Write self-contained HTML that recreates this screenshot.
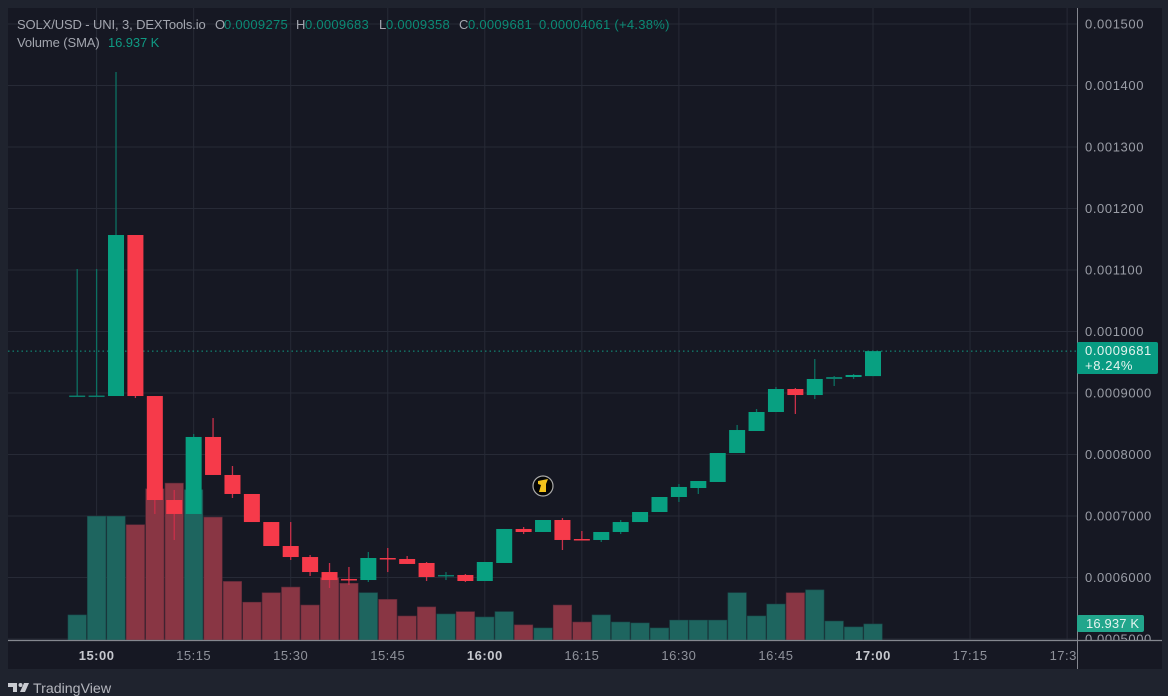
<!DOCTYPE html>
<html lang="en">
<head>
<meta charset="utf-8">
<title>SOLX/USD chart</title>
<style>
  html, body { margin: 0; padding: 0; width: 1168px; height: 696px; overflow: hidden; background: #1f232e; }
  svg { display: block; }
  text { font-family: "Liberation Sans", sans-serif; }
</style>
</head>
<body>
<svg id="chart" xmlns="http://www.w3.org/2000/svg" width="1168" height="696" viewBox="0 0 1168 696">
  <defs>
    <clipPath id="plot-clip"><rect x="8" y="8" width="1069" height="632"></rect></clipPath>
    <clipPath id="time-clip"><rect x="8" y="641" width="1069" height="28"></rect></clipPath>
    <clipPath id="price-clip"><rect x="1078" y="8" width="84" height="632"></rect></clipPath>
  </defs>
  <rect x="0" y="0" width="1168" height="696" fill="#1f232e"></rect>
  <rect x="8" y="8" width="1154" height="661" fill="#161823"></rect>
  <g id="grid" clip-path="url(#plot-clip)"></g>
  <g id="volumes" clip-path="url(#plot-clip)"></g>
  <line id="lastLine" x1="8" x2="1077" stroke="#119a83" stroke-width="1" stroke-dasharray="1.5 3"></line>
  <g id="candles" clip-path="url(#plot-clip)"></g>

  <g id="price-axis" clip-path="url(#price-clip)"></g>
  <g id="time-axis" clip-path="url(#time-clip)"></g>
  <line x1="1077.5" x2="1077.5" y1="8" y2="669" stroke="#84878f" stroke-width="1"></line>
  <line x1="8" x2="1162" y1="640.5" y2="640.5" stroke="#84878f" stroke-width="1.2"></line>

  <g>
    <rect x="1077" y="342" width="81" height="32" rx="2" fill="#089b82"></rect>
    <text x="1085" y="355" font-size="13" letter-spacing="0.6" fill="#e4f3ef">0.0009681</text>
    <text x="1085" y="370" font-size="13" letter-spacing="0.6" fill="#e4f3ef">+8.24%</text>
  </g>
  <g>
    <rect x="1077" y="615" width="67" height="17" rx="2" fill="#22a68c"></rect>
    <text x="1086" y="628" font-size="13" letter-spacing="0.15" fill="#e4f3ef">16.937 K</text>
  </g>

  <g font-size="13" letter-spacing="0.28">
    <text x="17" y="29" letter-spacing="-0.12" fill="#a3a6af">SOLX/USD - UNI, 3, DEXTools.io</text>
    <text x="215" y="29" fill="#a3a6af">O</text>
    <text x="224" y="29" fill="#0b8a75">0.0009275</text>
    <text x="296" y="29" fill="#a3a6af">H</text>
    <text x="305" y="29" fill="#0b8a75">0.0009683</text>
    <text x="379" y="29" fill="#a3a6af">L</text>
    <text x="386" y="29" fill="#0b8a75">0.0009358</text>
    <text x="459" y="29" fill="#a3a6af">C</text>
    <text x="468" y="29" fill="#0b8a75">0.0009681</text>
    <text x="539" y="29" fill="#0b8a75">0.00004061 (+4.38%)</text>
    <text x="17" y="47" letter-spacing="-0.1" fill="#a3a6af">Volume (SMA)</text>
    <text x="108" y="47" letter-spacing="-0.1" fill="#0f9a83">16.937 K</text>
  </g>

  <g>
    <circle cx="543" cy="486" r="10" fill="#050505" stroke="#a9a9a9" stroke-width="1.2"></circle>
    <polygon points="538,481 548,479 546,484 546,492 539,492 541,485 538,484" fill="#f2c21c"></polygon>
  </g>

  <g>
    <polygon points="8,683 17,683 17,692 13,692 13,687 8,687" fill="#c9cbd1"></polygon>
    <circle cx="20.5" cy="685" r="2" fill="#c9cbd1"></circle>
    <polygon points="24,683 29,683 25,692 20,692" fill="#c9cbd1"></polygon>
    <text x="33" y="693" font-size="14.2" fill="#b4b6bd">TradingView</text>
  </g>
</svg>
<script>
const candleIndex = [-1,0,1,2,3,4,5,6,7,8,9,10,11,12,13,14,15,16,17,18,19,20,21,22,23,24,25,26,27,28,29,30,31,32,33,34,35,36,37,38,39,40];
const openValues = [8951,8951,8951,11569,8951,7260,7033,8285,7667,7358,6902,6512,6333,6089,5976,5959,6317,6301,6236,6024,6041,5943,6236,6789,6740,6935,6626,6610,6740,6902,7065,7309,7455,7553,8024,8382,8691,9065,8967,9228,9260,9275];
const highValues = [11016,11016,14219,11569,8951,7423,8333,8593,7813,7358,6902,6902,6366,6236,6171,6415,6480,6350,6252,6089,6057,6252,6789,6821,6935,6967,6756,6740,6935,7065,7309,7520,7569,8024,8480,8740,9098,9081,9553,9276,9309,9683];
const lowValues = [8951,8951,8951,8919,7033,6610,7033,7667,7293,6902,6512,6285,6024,5829,5878,5927,6089,6220,5943,5959,5927,5943,6236,6707,6740,6447,6610,6577,6707,6902,7065,7228,7358,7553,8024,8382,8691,8659,8902,9114,9228,9275];
const closeValues = [8959,8959,11569,8951,7260,7033,8285,7667,7358,6902,6512,6333,6089,5959,5959,6317,6293,6220,6008,6041,5943,6252,6789,6740,6935,6610,6610,6740,6902,7065,7309,7472,7569,8024,8398,8691,9065,8967,9228,9260,9293,9681];
const volumeValues = [26.5,131,131,122,160,166,159,130,62,40,50,56,37,66,60,50,43,25.4,35,27.5,30,24.3,30,16,12.7,37,19,26.5,19,18,12.7,21,21,21,50,25.4,38,50,53,20,13.8,16.937];
const priceTickLabels = ['0.001500','0.001400','0.001300','0.001200','0.001100','0.001000','0.0009000','0.0008000','0.0007000','0.0006000','0.0005000'];
const timeTickLabels = ['15:00','15:15','15:30','15:45','16:00','16:15','16:30','16:45','17:00','17:15','17:30'];
const lastPrice = 9681;

const SVG_NS = 'http://www.w3.org/2000/svg';
const PRICE_UNIT = 1e-7;
const CANDLES_PER_TICK = 5;

function xAxis(index) { return 96.6 + index * 19.41; }
function yPrice(price) { return 393 - (price - 9000) * 61.5 / 1000; }
function yVolume(volume) { return 640 - volume * 0.945; }

function make(tag, attrs, parent) {
  const el = document.createElementNS(SVG_NS, tag);
  for (const key in attrs) el.setAttribute(key, attrs[key]);
  parent.appendChild(el);
  return el;
}

const grid = document.getElementById('grid');
const priceAxis = document.getElementById('price-axis');
const timeAxis = document.getElementById('time-axis');
const volumes = document.getElementById('volumes');
const candles = document.getElementById('candles');

priceTickLabels.forEach(function (label) {
  const y = yPrice(parseFloat(label) / PRICE_UNIT);
  const line = make('line', { x1: 8, x2: 1077, y1: y, y2: y, stroke: '#272a36', 'stroke-width': 1 }, grid);
  
  
  const text = make('text', { x: 1085, y: y + 4.5, 'font-size': 13, 'letter-spacing': 0.6, fill: '#9a9da6' }, priceAxis);
  
  
  text.textContent = label;
});

timeTickLabels.forEach(function (label, i) {
  const x = xAxis(i * CANDLES_PER_TICK);
  const line = make('line', { x1: x, x2: x, y1: 8, y2: 640, stroke: '#272a36', 'stroke-width': 1 }, grid);
  
  
  const major = label.slice(-3) === ':00';
  const text = make('text', {
    x: x, y: 660, 'font-size': 13, 'letter-spacing': 0.5, 'text-anchor': 'middle',
    fill: major ? '#c6c8ce' : '#8f929b', 'font-weight': major ? 700 : 400
  }, timeAxis);
  
  
  text.textContent = label;
});

candleIndex.forEach(function (index, i) {
  const x = xAxis(index);
  const open = openValues[i];
  const close = closeValues[i];
  const up = close >= open;

  const top = yVolume(volumeValues[i]);
  const bar = make('rect', {
    x: x - 9.2, y: top, width: 18.4, height: 640 - top,
    fill: up ? '#1e655f' : '#893644', stroke: up ? '#1a4c4c' : '#5c2a39', 'stroke-width': 0.6
  }, volumes);
  
  

  const wick = make('line', {
    x1: x, x2: x, y1: yPrice(highValues[i]), y2: yPrice(lowValues[i]),
    stroke: up ? '#0c6f61' : '#c9304a', 'stroke-width': 1.3
  }, candles);
  
  

  const bodyTop = yPrice(Math.max(open, close));
  const bodyBottom = yPrice(Math.min(open, close));
  const doji = bodyBottom - bodyTop < 2;
  const body = make('rect', {
    x: x - 8, y: bodyTop, width: 16, height: Math.max(1.5, bodyBottom - bodyTop),
    fill: up ? (doji ? '#0c7c6b' : '#08a081') : '#f63a4a'
  }, candles);
  
  
});

const lastLine = document.getElementById('lastLine');
lastLine.setAttribute('y1', yPrice(lastPrice));
lastLine.setAttribute('y2', yPrice(lastPrice));
</script>
</body>
</html>
